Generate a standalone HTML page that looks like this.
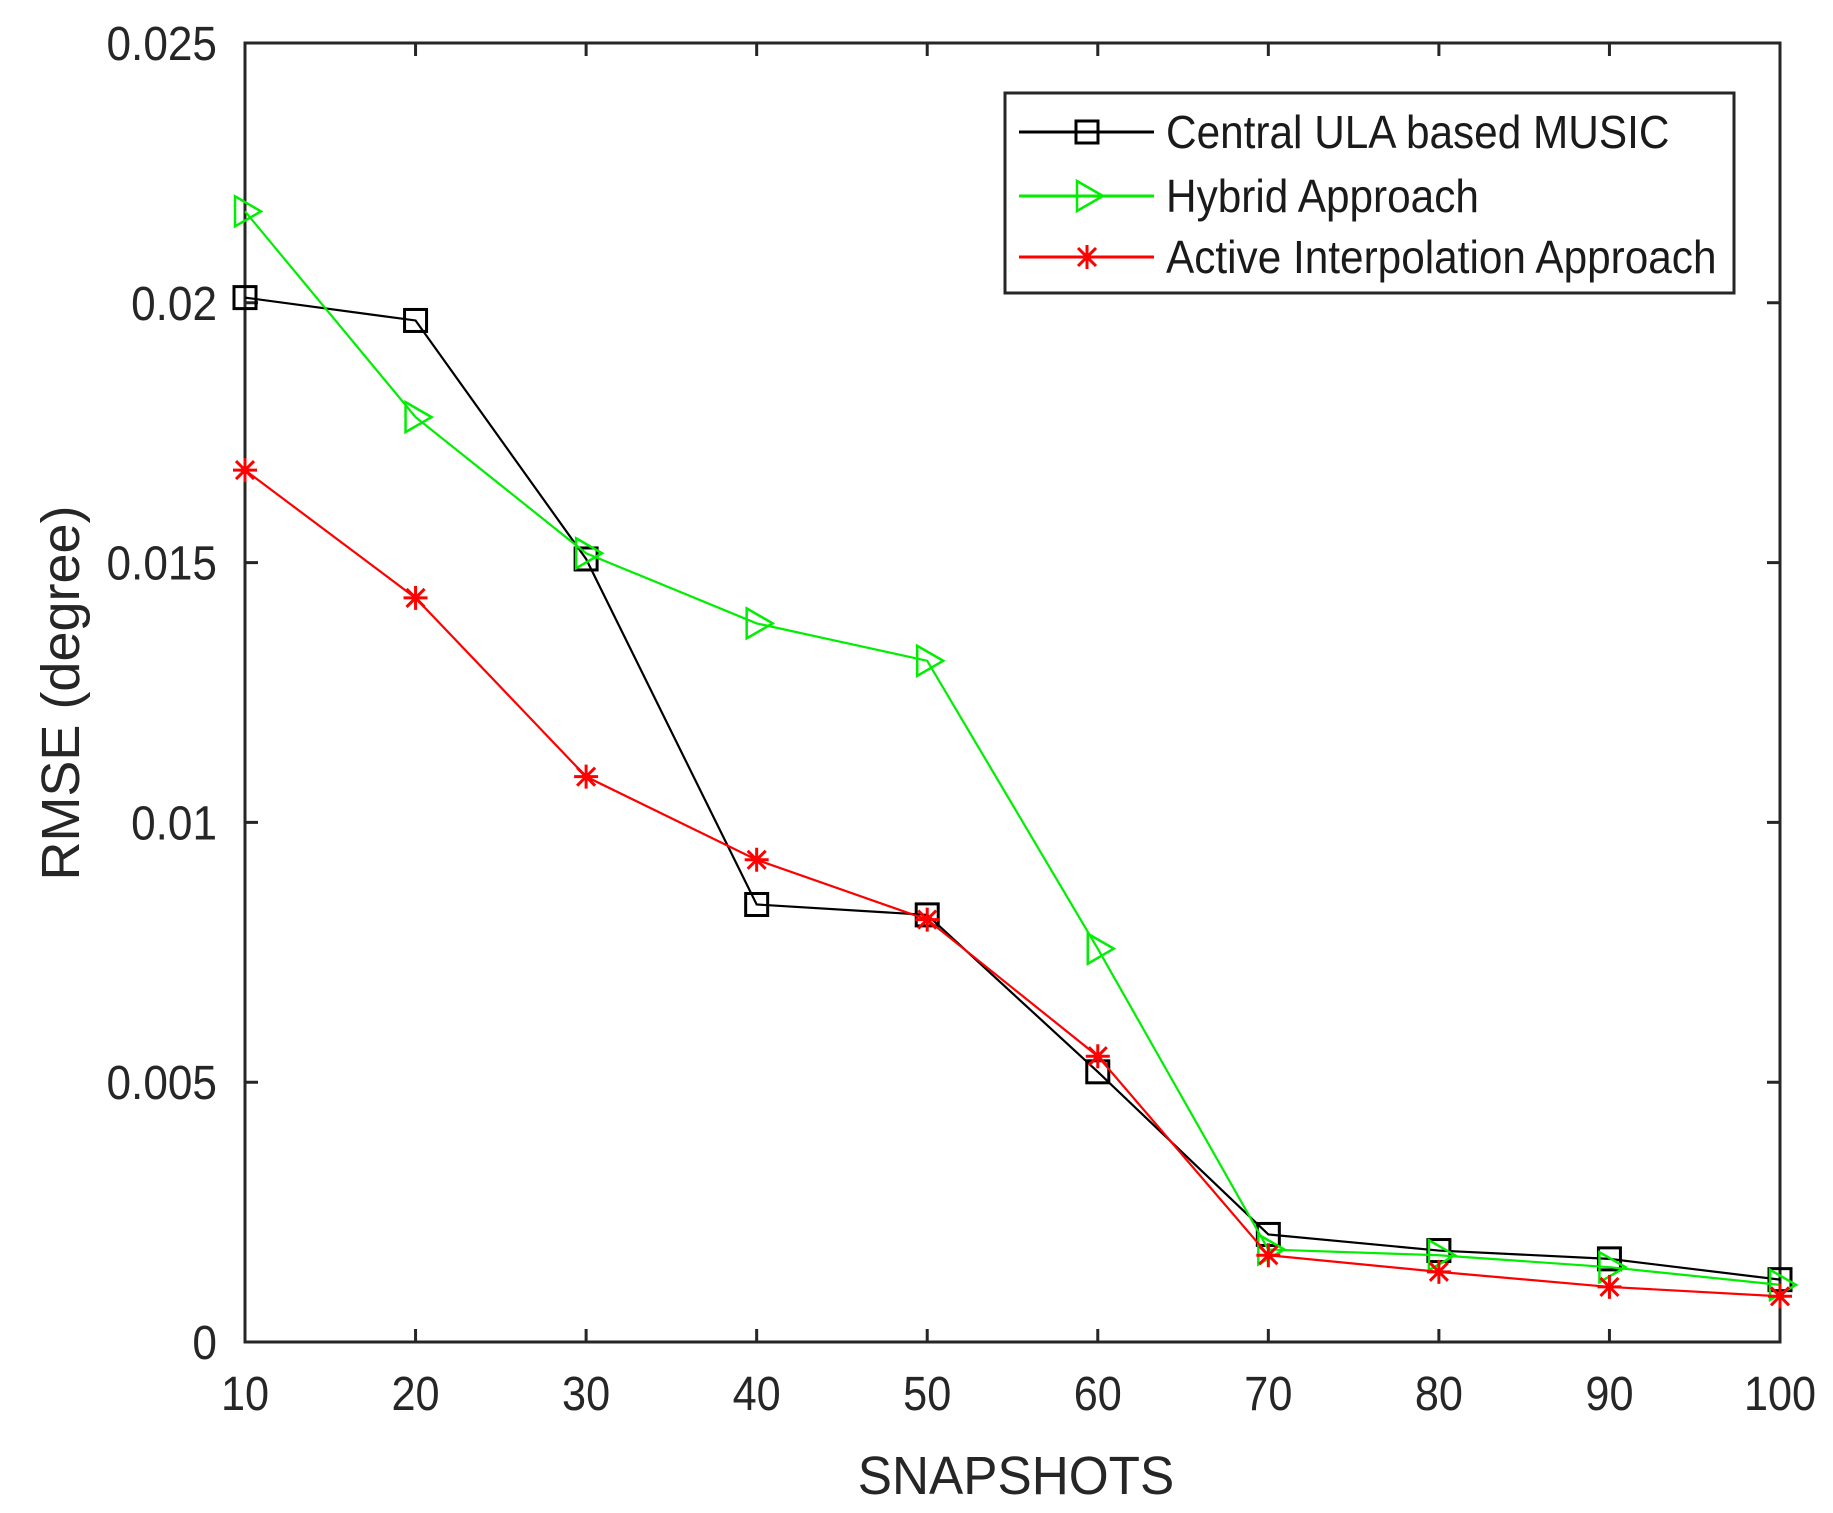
<!DOCTYPE html>
<html><head><meta charset="utf-8"><style>
html,body{margin:0;padding:0;background:#fff;}
svg{display:block;font-family:"Liberation Sans",Arial,sans-serif;}
</style></head><body>
<svg id="chart" width="1833" height="1513" viewBox="0 0 1833 1513" xmlns="http://www.w3.org/2000/svg">
<rect width="1833" height="1513" fill="#fff"/>
<g id="axes"></g>
<g id="series"></g>
<g id="legend"></g>
</svg>
<script>
const categories = [10,20,30,40,50,60,70,80,90,100];
const centralUla = [0.0201,0.01966,0.01507,0.00842,0.00822,0.0052,0.00207,0.00176,0.0016,0.0012];
const hybrid = [0.02176,0.0178,0.01518,0.01383,0.01311,0.00757,0.00178,0.00167,0.00144,0.0011];
const activeInterp = [0.01678,0.01432,0.01088,0.00928,0.00813,0.0055,0.00167,0.00135,0.00106,0.00088];
const yTicks = [0,0.005,0.01,0.015,0.02,0.025];
const yTickLabels = ["0","0.005","0.01","0.015","0.02","0.025"];
const xTickLabels = ["10","20","30","40","50","60","70","80","90","100"];
const seriesNames = ["Central ULA based MUSIC","Hybrid Approach","Active Interpolation Approach"];

const NS="http://www.w3.org/2000/svg";
const L=245,R=1780,T=43,B=1342;
const xs=v=>L+(v-10)/90*(R-L);
const ys=v=>B-v/0.025*(B-T);
function mk(tag,attrs,parent){const e=document.createElementNS(NS,tag);for(const k in attrs)e.setAttribute(k,attrs[k]);parent.appendChild(e);return e;}
function squish(t,f){const w=t.getComputedTextLength();t.setAttribute('textLength',(w*f).toFixed(1));t.setAttribute('lengthAdjust','spacingAndGlyphs');}
const axes=document.getElementById('axes');
const box=mk('rect',{x:L,y:T,width:R-L,height:B-T,fill:'none',stroke:'#262626','stroke-width':3},axes);


yTicks.forEach((v,i)=>{
  const y=ys(v);
  const t1=mk('path',{d:`M${L},${y}h13M${R},${y}h-13`,stroke:'#262626','stroke-width':3},axes);
  
  
  const tx=mk('text',{x:217,y:y+17,'text-anchor':'end','font-size':48,fill:'#262626'},axes);
  tx.textContent=yTickLabels[i];
  
  
  squish(tx,0.92);
});
categories.forEach((c,i)=>{
  const x=xs(c);
  const t1=mk('path',{d:`M${x},${B}v-13M${x},${T}v13`,stroke:'#262626','stroke-width':3},axes);
  
  
  const tx=mk('text',{x:x,y:1410,'text-anchor':'middle','font-size':48,fill:'#262626'},axes);
  tx.textContent=xTickLabels[i];
  
  
  squish(tx,0.9);
});
const xl=mk('text',{x:1016,y:1494,'text-anchor':'middle','font-size':54,fill:'#262626'},axes);
xl.textContent='SNAPSHOTS';


squish(xl,0.95);
const yl=mk('text',{x:0,y:0,'text-anchor':'middle','font-size':54,fill:'#262626',transform:'translate(79,693) rotate(-90)'},axes);
yl.textContent='RMSE  (degree)';


squish(yl,1.0);

function marker(kind,x,y,color,parent){
  let e;
  if(kind==='square'){e=mk('rect',{x:x-11,y:y-11,width:22,height:22,fill:'none',stroke:color,'stroke-width':3},parent);}
  else if(kind==='tri'){e=mk('path',{d:`M${x-10},${y-15}L${x+16},${y}L${x-10},${y+15}Z`,fill:'none',stroke:color,'stroke-width':2.5},parent);}
  else {e=mk('path',{d:`M${x-12},${y}h24M${x},${y-12}v24M${x-9},${y-9}l18,18M${x+9},${y-9}l-18,18`,stroke:color,'stroke-width':3},parent);}
  return e;
}
const sg=document.getElementById('series');
const defs=[[centralUla,'#000','square','central-ula'],[hybrid,'#00ee00','tri','hybrid'],[activeInterp,'#ff0000','star','active-interp']];
defs.forEach(([vals,col,kind,name])=>{
  const d=vals.map((v,i)=>(i?'L':'M')+xs(categories[i])+','+ys(v)).join('');
  const p=mk('path',{d:d,fill:'none',stroke:col,'stroke-width':2.2},sg);
  
  
  vals.forEach((v,i)=>{
    const m=marker(kind,xs(categories[i]),ys(v),col,sg);
    
    
  });
});
const lg=document.getElementById('legend');
const lb=mk('rect',{x:1005,y:93,width:729,height:200,fill:'#fff',stroke:'#262626','stroke-width':3},lg);


const ly=[132,196,257];
defs.forEach(([vals,col,kind,name],i)=>{
  const l=mk('path',{d:`M1019,${ly[i]}H1154`,stroke:col,'stroke-width':3},lg);
  
  
  const m=marker(kind,1087,ly[i],col,lg);
  
  
  const t=mk('text',{x:1166,y:ly[i]+16,'font-size':46,fill:'#1a1a1a'},lg);
  t.textContent=seriesNames[i];
  
  
  squish(t,0.92);
});
</script>
</body></html>
